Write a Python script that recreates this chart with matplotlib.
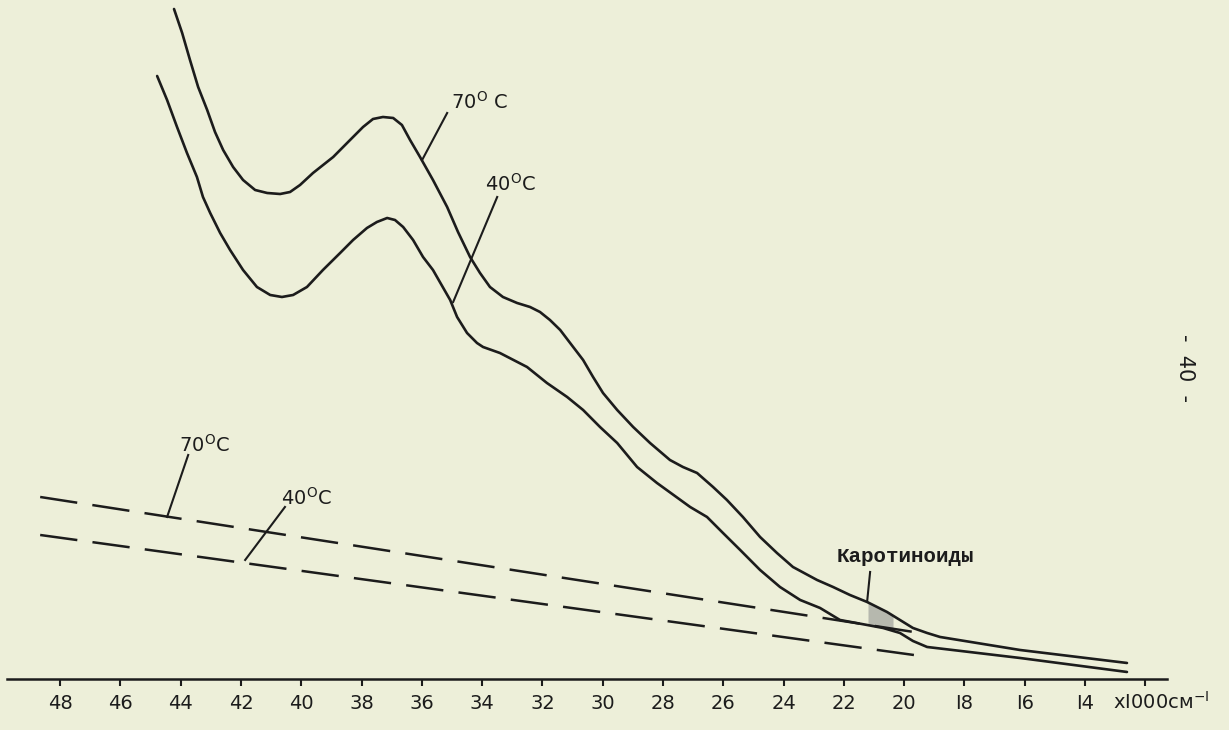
import numpy as np
import matplotlib
matplotlib.use("Agg")
import matplotlib.pyplot as plt

# wavenumber, x1000 cm^-1  /  optical density (arbitrary units)
w_70 = [44.22, 43.95, 43.69, 43.42, 43.12, 42.86, 42.59, 42.26, 41.93, 41.53,
        41.13, 40.70, 40.37, 40.04, 39.61, 38.94, 38.38, 37.95, 37.62, 37.29,
        36.95, 36.66, 36.39, 36.06, 35.63, 35.16, 34.80, 34.40, 34.07, 33.74,
        33.31, 32.84, 32.41, 32.08, 31.75, 31.41, 30.98, 30.65, 30.32, 29.99,
        29.52, 28.99, 28.43, 27.77, 27.34, 26.87, 26.34, 25.88, 25.35, 24.78,
        24.22, 23.69, 22.89, 22.36, 21.80, 21.23, 20.57, 20.14, 19.71, 19.24,
        18.81, 16.16, 12.61]
d_70 = [6.70, 6.46, 6.19, 5.92, 5.69, 5.47, 5.29, 5.12, 4.99, 4.89,
        4.86, 4.85, 4.87, 4.94, 5.06, 5.22, 5.39, 5.52, 5.60, 5.62,
        5.61, 5.54, 5.39, 5.22, 4.99, 4.72, 4.47, 4.22, 4.06, 3.92,
        3.82, 3.76, 3.72, 3.67, 3.59, 3.49, 3.32, 3.19, 3.02, 2.86,
        2.69, 2.52, 2.36, 2.19, 2.12, 2.06, 1.92, 1.79, 1.62, 1.42,
        1.26, 1.12, 0.99, 0.92, 0.84, 0.77, 0.67, 0.59, 0.51, 0.46,
        0.42, 0.29, 0.16]

w_40 = [44.78, 44.45, 44.12, 43.79, 43.46, 43.26, 43.02, 42.69, 42.36, 41.93,
        41.47, 41.03, 40.64, 40.27, 39.81, 39.28, 38.71, 38.28, 37.82, 37.49,
        37.15, 36.89, 36.62, 36.29, 35.96, 35.63, 35.06, 34.83, 34.50, 34.17,
        33.97, 33.41, 32.51, 31.85, 31.18, 30.65, 30.09, 29.52, 28.86, 28.20,
        27.10, 26.54, 26.01, 25.44, 24.78, 24.12, 23.45, 22.79, 22.13, 21.23,
        20.70, 20.14, 19.71, 19.24, 16.16, 12.61]
d_40 = [6.03, 5.79, 5.52, 5.26, 5.02, 4.82, 4.66, 4.46, 4.29, 4.09,
        3.92, 3.84, 3.82, 3.84, 3.92, 4.09, 4.26, 4.39, 4.51, 4.57,
        4.61, 4.59, 4.52, 4.39, 4.22, 4.09, 3.79, 3.62, 3.46, 3.36,
        3.32, 3.26, 3.12, 2.96, 2.82, 2.69, 2.52, 2.36, 2.12, 1.96,
        1.72, 1.62, 1.46, 1.29, 1.09, 0.92, 0.79, 0.71, 0.59, 0.54,
        0.51, 0.46, 0.38, 0.32, 0.21, 0.07]

# scattering baselines (dashed)
base_w_70 = [48.66, 19.47]
base_d_70 = [1.82, 0.46]
base_w_40 = [48.66, 19.44]
base_d_40 = [1.44, 0.23]

# carotenoid band (shaded)
car_w = [21.20, 20.37]

ticks = list(range(48, 11, -2))
tick_labels = ["48", "46", "44", "42", "40", "38", "36", "34", "32", "30",
               "28", "26", "24", "22", "20", "I8", "I6", "I4", ""]

BG = "#edefd9"
INK = "#1c1c1c"
plt.rcParams.update({"font.family": "DejaVu Sans", "lines.scale_dashes": False})

fig = plt.figure(figsize=(12.29, 7.30), dpi=100, facecolor=BG)
ax = fig.add_axes([0.0057, 0.0699, 0.9439, 0.9301])
ax.set_facecolor(BG)

ax.plot(w_70, d_70, color=INK, lw=1.9, solid_joinstyle="round", solid_capstyle="round")
ax.plot(w_40, d_40, color=INK, lw=1.9, solid_joinstyle="round", solid_capstyle="round")
ax.plot(base_w_70, base_d_70, color=INK, lw=1.8, dashes=(27, 11))
ax.plot(base_w_40, base_d_40, color=INK, lw=1.8, dashes=(27, 11))

cw = np.linspace(car_w[0], car_w[1], 12)
top = np.interp(cw, w_70[::-1], d_70[::-1])
bot = np.interp(cw, w_40[::-1], d_40[::-1])
ax.fill_between(cw, bot, top, color="#a9aba4", alpha=0.8, lw=0)

# labels with leader lines
lab = dict(color=INK, fontsize=14, ha="center", va="center")
ax.text(34.07, 5.77, r"70$^{\mathrm{O}}$ C", **lab)
ax.plot([35.16, 35.99], [5.66, 5.19], color=INK, lw=1.5)
ax.text(33.07, 4.95, r"40$^{\mathrm{O}}$C", **lab)
ax.plot([33.50, 34.96], [4.82, 3.77], color=INK, lw=1.5)
ax.text(43.22, 2.34, r"70$^{\mathrm{O}}$C", **lab)
ax.plot([43.75, 44.45], [2.24, 1.62], color=INK, lw=1.5)
ax.text(39.84, 1.81, r"40$^{\mathrm{O}}$C", **lab)
ax.plot([40.54, 41.86], [1.72, 1.19], color=INK, lw=1.5)
ax.text(19.97, 1.22, "Каротиноиды", color=INK, fontsize=15, ha="center", va="center",
        family="Liberation Mono", fontweight="bold")
ax.plot([21.13, 21.23], [1.07, 0.77], color=INK, lw=1.5)

ax.set_xlim(49.76, 11.28)
ax.set_ylim(0, 6.79)
ax.set_xticks(ticks)
ax.set_xticklabels(tick_labels, fontsize=14, color=INK)
ax.tick_params(axis="x", direction="out", length=5, width=1.5, color=INK, pad=6)
ax.set_yticks([])
ax.spines[["top", "right", "left"]].set_visible(False)
ax.spines["bottom"].set_linewidth(1.8)
ax.spines["bottom"].set_color(INK)

fig.text(0.9056, 0.0384, r"xI000см$^{-\mathrm{I}}$", fontsize=14, color=INK, va="center")
fig.text(0.964, 0.496, "-  40  -", fontsize=15, color=INK, rotation=-90,
         ha="center", va="center")

fig.savefig("out.png", dpi=100, facecolor=BG)
